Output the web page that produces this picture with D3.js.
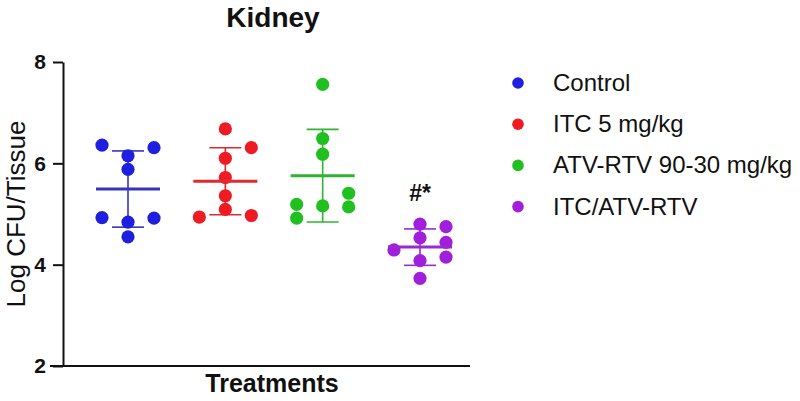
<!DOCTYPE html>
<html>
<head>
<meta charset="utf-8">
<script src="https://cdn.jsdelivr.net/npm/d3@7/dist/d3.min.js"></script>
<style>
  body { margin: 0; background: #fff; }
  text { font-family: "Liberation Sans", Arial, sans-serif; }
</style>
</head>
<body>
<div id="chart"></div>
<script>
// groups and their points (in entry order)
var groups = ["Control", "ITC 5 mg/kg", "ATV-RTV 90-30 mg/kg", "ITC/ATV-RTV"];
var control = [4.55, 4.84, 4.92, 4.93, 5.88, 6.15, 6.31, 6.36];
var itc = [6.68, 6.10, 5.72, 5.36, 5.09, 6.31, 4.97, 4.94];
var atvRtv = [7.56, 6.49, 6.18, 5.16, 5.41, 5.14, 5.19, 4.92];
var combo = [4.80, 4.53, 4.08, 3.73, 4.75, 4.44, 4.15, 4.29];
var yTicks = [2, 4, 6, 8];
var marks = ["", "", "", "#*"];

var dotColors = ["#1f1fe0", "#ee1c22", "#20c020", "#a11fdc"];
var lineColors = ["#3434c4", "#e02a2e", "#30b430", "#9a2ad0"];

var allData = [control, itc, atvRtv, combo];

var width = 800,
  height = 401;

var svg = d3
  .select("#chart")
  .append("svg")
  .attr("width", width)
  .attr("height", height);

var y = d3.scaleLinear().domain([2, 8]).range([366, 62]);
var x = d3.scalePoint().domain(groups).range([128, 420]);

var r = 6.6,
  colStep = 26,
  minGap = 13;

// title
svg
  .append("text")
  .attr("x", 273)
  .attr("y", 27)
  .attr("text-anchor", "middle")
  .attr("font-size", 28)
  .attr("font-weight", "bold")
  .attr("fill", "#111")
  .text("Kidney");

// y axis
var yAxis = d3
  .axisLeft(y)
  .tickValues(yTicks)
  .tickFormat(d3.format("d"))
  .tickSize(10)
  .tickSizeOuter(0)
  .tickPadding(7);
var yAxisGroup = svg
  .append("g")
  .attr("transform", "translate(63,0)")
  .call(yAxis);
yAxisGroup.selectAll("path, line").attr("stroke", "#111").attr("stroke-width", 2);
yAxisGroup
  .selectAll("text")
  .attr("font-size", 21)
  .attr("font-weight", "bold")
  .attr("fill", "#111")
  .style("font-family", '"Liberation Sans", Arial, sans-serif');

// x axis (line only)
svg
  .append("line")
  .attr("x1", 50)
  .attr("x2", 470)
  .attr("y1", y(2))
  .attr("y2", y(2))
  .attr("stroke", "#111")
  .attr("stroke-width", 2);

svg
  .append("text")
  .attr("transform", "rotate(-90)")
  .attr("x", -214)
  .attr("y", 25)
  .attr("text-anchor", "middle")
  .attr("font-size", 26)
  .attr("fill", "#111")
  .text("Log CFU/Tissue");

svg
  .append("text")
  .attr("x", 272)
  .attr("y", 392)
  .attr("text-anchor", "middle")
  .attr("font-size", 25)
  .attr("font-weight", "bold")
  .attr("fill", "#111")
  .text("Treatments");

// spread points so they don't overlap
function spread(values) {
  var placed = [];
  values.forEach(function(v) {
    var py = y(v);
    var tries = [0, 1, -1, 2, -2, 3, -3];
    for (var t = 0; t < tries.length; t++) {
      var k = tries[t];
      var hit = placed.some(function(p) {
        return p.col === k && Math.abs(p.py - py) < minGap;
      });
      if (!hit) {
        placed.push({ v: v, py: py, col: k });
        break;
      }
    }
  });
  return placed;
}

allData.forEach(function(vals, i) {
  var cx = x(groups[i]);
  var mean = d3.mean(vals);
  var sd = d3.deviation(vals);
  var g = svg.append("g");

  g.append("line")
    .attr("x1", cx)
    .attr("x2", cx)
    .attr("y1", y(mean + sd))
    .attr("y2", y(mean - sd))
    .attr("stroke", lineColors[i])
    .attr("stroke-width", 1.6);

  [mean + sd, mean - sd].forEach(function(c) {
    g.append("line")
      .attr("x1", cx - 16)
      .attr("x2", cx + 16)
      .attr("y1", y(c))
      .attr("y2", y(c))
      .attr("stroke", lineColors[i])
      .attr("stroke-width", 1.6);
  });

  g.selectAll("circle")
    .data(spread(vals))
    .enter()
    .append("circle")
    .attr("cx", function(d) {
      return cx + d.col * colStep;
    })
    .attr("cy", function(d) {
      return d.py;
    })
    .attr("r", r)
    .attr("fill", dotColors[i]);

  g.append("line")
    .attr("x1", cx - 32)
    .attr("x2", cx + 32)
    .attr("y1", y(mean))
    .attr("y2", y(mean))
    .attr("stroke", lineColors[i])
    .attr("stroke-width", 3);

  if (marks[i]) {
    svg
      .append("text")
      .attr("x", cx)
      .attr("y", y(d3.max(vals)) - 23)
      .attr("text-anchor", "middle")
      .attr("font-size", 23)
      .attr("font-weight", "bold")
      .attr("fill", "#111")
      .text(marks[i]);
  }
});

// legend
var legend = svg
  .selectAll(".legend")
  .data(groups)
  .enter()
  .append("g")
  .attr("class", "legend")
  .attr("transform", function(d, i) {
    return "translate(518," + (83 + i * 41.2) + ")";
  });

legend
  .append("circle")
  .attr("r", 5.8)
  .attr("fill", function(d, i) {
    return dotColors[i];
  });

legend
  .append("text")
  .attr("x", 35)
  .attr("y", 8)
  .attr("font-size", 24)
  .attr("fill", "#111")
  .text(function(d) {
    return d;
  });
</script>
</body>
</html>
